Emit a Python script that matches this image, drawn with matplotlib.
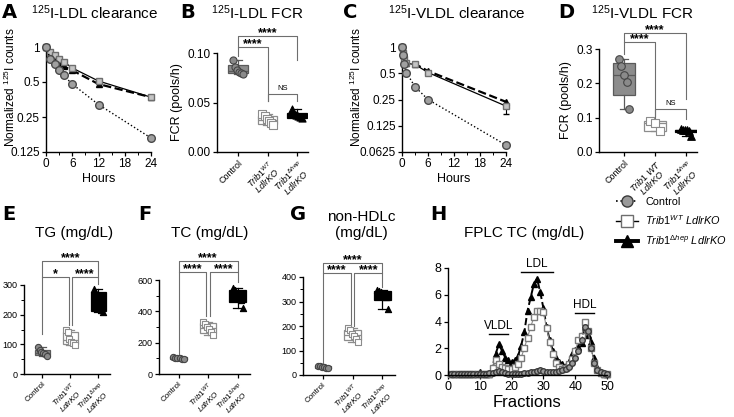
import numpy as np
import matplotlib
matplotlib.use('Agg')
import matplotlib.pyplot as plt
from matplotlib.ticker import AutoMinorLocator, NullLocator
from matplotlib.lines import Line2D

plt.rcParams['font.family'] = ['Liberation Sans', 'DejaVu Sans']
plt.rcParams['mathtext.fontset'] = 'custom'
plt.rcParams['mathtext.rm'] = 'Liberation Sans'
plt.rcParams['mathtext.it'] = 'Liberation Sans:italic'
plt.rcParams['mathtext.bf'] = 'Liberation Sans:bold'

# --- data -------------------------------------------------------------
# A: 125I-LDL clearance
hours_a = [0, 1, 2, 3, 4, 6, 12, 24]
ldl_ctrl = [1.0, 0.79, 0.72, 0.64, 0.57, 0.48, 0.32, 0.165]
ldl_wt = [1.0, 0.90, 0.85, 0.79, 0.75, 0.66, 0.51, 0.37]
ldl_hep = [1.0, 0.85, 0.78, 0.72, 0.68, 0.63, 0.48, 0.37]

# C: 125I-VLDL clearance
hours_c = [0, 0.25, 0.5, 1, 3, 6, 24]
vldl_ctrl = [1.0, 0.80, 0.64, 0.51, 0.35, 0.25, 0.075]
vldl_wt = [1.0, 0.85, 0.72, 0.65, 0.63, 0.51, 0.21]
vldl_wt_err = [0, 0, 0, 0, 0, 0, 0.04]
vldl_hep = [1.0, 0.82, 0.72, 0.66, 0.64, 0.53, 0.235]

# B: 125I-LDL FCR (pools/h)
fcr_ldl_ctrl = [0.093, 0.086, 0.083, 0.081, 0.080, 0.079]
fcr_ldl_wt = [0.038, 0.036, 0.033, 0.031, 0.029, 0.027]
fcr_ldl_hep = [0.043, 0.038, 0.037, 0.036, 0.035, 0.034]

# D: 125I-VLDL FCR (pools/h)
fcr_vldl_ctrl = [0.27, 0.25, 0.225, 0.205, 0.125]
fcr_vldl_wt = [0.09, 0.085, 0.06]
fcr_vldl_hep = [0.066, 0.065, 0.064, 0.063, 0.061, 0.047]

# E-G: plasma lipids (mg/dL)
tg_ctrl = [90, 80, 74, 70, 66, 60]
tg_wt = [150, 140, 118, 108, 104, 98]
tg_hep = [285, 275, 232, 225, 215, 210]
tc_ctrl = [110, 105, 102, 100, 98, 95]
tc_wt = [335, 320, 300, 285, 265, 248]
tc_hep = [550, 535, 515, 500, 470, 420]
nhdl_ctrl = [38, 35, 33, 32, 30, 28]
nhdl_wt = [190, 182, 168, 160, 145, 135]
nhdl_hep = [345, 342, 338, 330, 318, 268]

# H: FPLC total cholesterol per fraction
fractions = list(range(1, 51))
fplc_ctrl = [0.10, 0.10, 0.10, 0.10, 0.10, 0.10, 0.10, 0.10, 0.10, 0.10,
             0.10, 0.10, 0.12, 0.15, 0.25, 0.30, 0.22, 0.12, 0.08, 0.06,
             0.06, 0.08, 0.10, 0.12, 0.15, 0.20, 0.25, 0.30, 0.40, 0.30,
             0.25, 0.20, 0.20, 0.25, 0.30, 0.35, 0.45, 0.60, 0.90, 1.30,
             1.80, 2.60, 3.60, 3.30, 2.00, 0.90, 0.40, 0.20, 0.12, 0.10]
fplc_wt = [0.05, 0.05, 0.05, 0.05, 0.05, 0.05, 0.05, 0.05, 0.05, 0.05,
           0.05, 0.05, 0.10, 0.55, 1.10, 0.85, 0.60, 0.50, 0.45, 0.45,
           0.60, 0.80, 1.30, 2.00, 2.80, 3.60, 4.30, 4.80, 4.80, 4.70,
           3.50, 2.50, 1.60, 0.90, 0.60, 0.45, 0.50, 0.80, 1.20, 1.80,
           2.60, 2.90, 4.00, 3.30, 2.00, 0.90, 0.35, 0.15, 0.10, 0.10]
fplc_hep = [0.05, 0.05, 0.05, 0.05, 0.05, 0.05, 0.05, 0.05, 0.05, 0.20,
            0.05, 0.05, 0.05, 0.60, 1.60, 2.30, 1.80, 1.30, 1.10, 1.00,
            1.10, 1.40, 2.20, 3.20, 4.80, 5.80, 6.80, 7.20, 6.20, 5.00,
            3.60, 2.60, 1.80, 1.30, 1.00, 0.80, 0.70, 1.00, 1.60, 1.90,
            2.10, 2.40, 3.60, 3.00, 2.50, 1.30, 0.50, 0.20, 0.10, 0.10]

groups = ['Control',
          '$\\mathit{Trib1}^{\\mathit{WT}}$\n$\\mathit{LdlrKO}$',
          '$\\mathit{Trib1}^{\\mathit{\\Delta hep}}$\n$\\mathit{LdlrKO}$']
groups_d = ['Control',
            '$\\mathit{Trib1\\ WT}$\n$\\mathit{LdlrKO}$',
            '$\\mathit{Trib1}^{\\mathit{\\Delta hep}}$\n$\\mathit{LdlrKO}$']

# --- helpers ------------------------------------------------------------
W, H = 734, 417
fig = plt.figure(figsize=(W / 100, H / 100), dpi=100)


def rect(l, t, r, b):
    return [l / W, 1 - b / H, (r - l) / W, (b - t) / H]


def ftext(x, y, s, **kw):
    fig.text(x / W, 1 - y / H, s, **kw)


def style(ax, fs):
    for s in ('top', 'right'):
        ax.spines[s].set_visible(False)
    for s in ('left', 'bottom'):
        ax.spines[s].set_linewidth(1.0)
    ax.tick_params(labelsize=fs, length=3, width=0.9, pad=1.5)
    ax.tick_params(which='minor', length=2, width=0.7)


def prism_stats(vals):
    v = np.sort(np.asarray(vals, float))
    q1, med, q3 = np.percentile(v, [25, 50, 75], method='weibull')
    return dict(med=med, q1=q1, q3=q3, whislo=v.min(), whishi=v.max(), fliers=[])


box_cols = [('#8c8c8c', '#5a5a5a'), ('white', '#8c8c8c'), ('black', 'black')]
pt_styles = [dict(marker='o', facecolor='#8a8a8a', edgecolor='#454545'),
             dict(marker='s', facecolor='white', edgecolor='#8c8c8c'),
             dict(marker='^', facecolor='black', edgecolor='black')]


def boxes(ax, data, width=0.6, s=22):
    bp = ax.bxp([prism_stats(g) for g in data], positions=[0, 1, 2], widths=width,
                patch_artist=True, showfliers=False, manage_ticks=False, capwidths=0.28)
    for i, (fc, ec) in enumerate(box_cols):
        bp['boxes'][i].set(facecolor=fc, edgecolor=ec, linewidth=0.9)
        bp['medians'][i].set(color=ec, linewidth=0.9)
        for ln in bp['whiskers'][2 * i:2 * i + 2] + bp['caps'][2 * i:2 * i + 2]:
            ln.set(color=ec, linewidth=0.9)
    for i, g in enumerate(data):
        offs = np.linspace(-0.17, 0.17, len(g))
        ax.scatter(i + offs, g, s=s, linewidths=0.8, zorder=3, clip_on=False, **pt_styles[i])


def bracket(ax, x1, x2, y, d1, d2, label, fs=9, col='#6e6e6e'):
    ax.plot([x1, x1, x2, x2], [d1, y, y, d2], color=col, lw=0.8, clip_on=False)
    if label == 'NS':
        ax.annotate(label, ((x1 + x2) / 2, y), xytext=(0, 1.5), textcoords='offset points',
                    ha='center', va='bottom', fontsize=5.5, annotation_clip=False)
    else:
        ax.annotate(label, ((x1 + x2) / 2, y), xytext=(0, -2.5), textcoords='offset points',
                    ha='center', va='bottom', fontsize=fs, fontweight='bold', annotation_clip=False)


def cat_axis(ax, labels, fs):
    ax.set_xticks([0, 1, 2])
    ax.set_xticklabels(labels, rotation=45, ha='right', va='top', linespacing=0.85,
                       rotation_mode='anchor', multialignment='center', fontsize=fs)


def clearance(ax, t, ctrl, wt, hep, wt_err=None):
    ax.plot(t, hep, '--', color='k', lw=1.6, marker='^', ms=5, mfc='k', mec='k', clip_on=False, zorder=3)
    ax.errorbar(t, wt, yerr=[wt_err, [0] * len(t)] if wt_err else None, fmt='-s', color='k', lw=0.9,
                ms=5, mfc='#c4c4c4', mec='#6e6e6e', ecolor='k', elinewidth=0.8, capsize=2.5,
                clip_on=False, zorder=4)
    ax.plot(t, ctrl, ':', color='k', lw=1.0, marker='o', ms=5.5, mfc='#a0a0a0', mec='#4a4a4a',
            clip_on=False, zorder=5)
    ax.set_yscale('log', base=2)
    ax.set_xlim(0, 24)
    ax.set_xticks([0, 6, 12, 18, 24])
    ax.xaxis.set_minor_locator(AutoMinorLocator(2))
    ax.yaxis.set_minor_locator(NullLocator())
    ax.set_xlabel('Hours', fontsize=9, labelpad=2)


# --- A ------------------------------------------------------------------
axA = fig.add_axes(rect(46, 47, 151, 152))
style(axA, 8.5)
clearance(axA, hours_a, ldl_ctrl, ldl_wt, ldl_hep)
axA.set_ylim(0.125, 1)
axA.set_yticks([0.125, 0.25, 0.5, 1])
axA.set_yticklabels(['0.125', '0.25', '0.5', '1'])
ftext(10, 87, 'Normalized $^{125}$I counts', rotation=90, ha='center', va='center', fontsize=8.5)

# --- C ------------------------------------------------------------------
axC = fig.add_axes(rect(402, 47, 506, 152))
style(axC, 8.5)
clearance(axC, hours_c, vldl_ctrl, vldl_wt, vldl_hep, wt_err=vldl_wt_err)
axC.set_ylim(0.0625, 1)
axC.set_yticks([0.0625, 0.125, 0.25, 0.5, 1])
axC.set_yticklabels(['0.0625', '0.125', '0.25', '0.5', '1'])
ftext(356, 87, 'Normalized $^{125}$I counts', rotation=90, ha='center', va='center', fontsize=8.5)

# --- B ------------------------------------------------------------------
axB = fig.add_axes(rect(217, 53, 308, 152))
style(axB, 8.5)
boxes(axB, [fcr_ldl_ctrl, fcr_ldl_wt, fcr_ldl_hep], width=0.65, s=26)
axB.set_ylim(0, 0.10)
axB.set_xlim(-0.71, 2.37)
axB.set_yticks([0, 0.05, 0.10])
axB.set_yticklabels(['0.00', '0.05', '0.10'])
axB.set_ylabel('FCR (pools/h)', fontsize=9, labelpad=3)
cat_axis(axB, groups, 6.5)
bracket(axB, 0, 1, 0.106, 0.097, 0.052, '****')
bracket(axB, 0, 2, 0.117, 0.106, 0.093, '****')
bracket(axB, 1, 2, 0.059, 0.052, 0.052, 'NS')

# --- D ------------------------------------------------------------------
axD = fig.add_axes(rect(599, 49, 697, 152))
style(axD, 8.5)
boxes(axD, [fcr_vldl_ctrl, fcr_vldl_wt, fcr_vldl_hep], width=0.7, s=30)
axD.set_ylim(0, 0.3)
axD.set_xlim(-0.8, 2.35)
axD.set_yticks([0, 0.1, 0.2, 0.3])
axD.set_yticklabels(['0.0', '0.1', '0.2', '0.3'])
axD.set_ylabel('FCR (pools/h)', fontsize=9, labelpad=3)
cat_axis(axD, groups_d, 6.5)
bracket(axD, 0, 1, 0.32, 0.285, 0.10, '****')
bracket(axD, 0, 2, 0.347, 0.32, 0.155, '****')
bracket(axD, 1, 2, 0.125, 0.105, 0.095, 'NS')

# --- E, F, G ------------------------------------------------------------
lipid_panels = [
    ((24, 285, 110, 374), [tg_ctrl, tg_wt, tg_hep], 300, 100, (327, 381), (135, 165, 305)),
    ((159, 280, 250, 374), [tc_ctrl, tc_wt, tc_hep], 600, 200, (651, 721), (130, 370, 590)),
    ((303, 277, 395, 375), [nhdl_ctrl, nhdl_wt, nhdl_hep], 400, 100, (416, 457), (50, 200, 360)),
]
for (l, t, r, b), data, ymax, step, (ylow, ytop), drops in lipid_panels:
    ax = fig.add_axes(rect(l, t, r, b))
    style(ax, 6.5)
    boxes(ax, data, width=0.55, s=20)
    ax.set_ylim(0, ymax)
    ax.set_xlim(-0.66, 2.42)
    ax.set_yticks(np.arange(0, ymax + 1, step))
    ax.yaxis.set_minor_locator(AutoMinorLocator(2))
    cat_axis(ax, groups, 5.8)
    bracket(ax, 0, 0.94, ylow, drops[0], drops[1], '*' if ymax == 300 else '****')
    bracket(ax, 1.06, 2, ylow, drops[1], drops[2], '****')
    bracket(ax, 0, 2, ytop, ylow, ylow, '****')

# --- H ------------------------------------------------------------------
axH = fig.add_axes(rect(448, 268, 607, 375))
style(axH, 9)
axH.plot(fractions, fplc_hep, '--', color='k', lw=1.4, marker='^', ms=4.5, mfc='k', mec='k', clip_on=False)
axH.plot(fractions, fplc_wt, '-', color='#8c8c8c', lw=0.8, marker='s', ms=4.5, mfc='white', mec='#7a7a7a',
         clip_on=False)
axH.plot(fractions, fplc_ctrl, ':', color='#444444', lw=0.8, marker='o', ms=4, mfc='#9a9a9a', mec='#3a3a3a',
         clip_on=False)
axH.set_xlim(0, 50)
axH.set_ylim(0, 8)
axH.set_xticks(range(0, 51, 10))
axH.set_yticks(range(0, 9, 2))
axH.set_xlabel('Fractions', fontsize=12, labelpad=1)
for name, x1, x2, y in [('VLDL', 13, 19, 3.06), ('LDL', 23, 33, 7.7), ('HDL', 40, 46, 4.6)]:
    axH.plot([x1, x2], [y, y], color='k', lw=1.0, clip_on=False)
    axH.text((x1 + x2) / 2, y + 0.15, name, ha='center', va='bottom', fontsize=8.5)

handles = [
    Line2D([], [], ls=':', color='k', lw=1.2, marker='o', ms=8, mfc='#9a9a9a', mec='#3a3a3a'),
    Line2D([], [], ls='-', color='k', lw=1.0, marker='s', ms=8, mfc='white', mec='#6e6e6e'),
    Line2D([], [], ls='-', color='k', lw=2.8, marker='^', ms=8, mfc='k', mec='k'),
]
labels = ['Control',
          '$\\mathit{Trib1}^{\\mathit{WT}}$ $\\mathit{LdlrKO}$',
          '$\\mathit{Trib1}^{\\mathit{\\Delta hep}}$ $\\mathit{LdlrKO}$']
fig.legend(handles, labels, loc='upper left', bbox_to_anchor=(616 / W, 1 - 197 / H), frameon=False,
           fontsize=7.8, handlelength=2.0, labelspacing=0.55, handletextpad=0.7, borderpad=0,
           borderaxespad=0, numpoints=1)

# --- titles and panel letters ------------------------------------------
for x, y, s in [(95, 13, '$^{125}$I-LDL clearance'), (257, 13, '$^{125}$I-LDL FCR'),
                (457, 13, '$^{125}$I-VLDL clearance'), (642, 13, '$^{125}$I-VLDL FCR'),
                (74, 233, 'TG (mg/dL)'), (210, 233, 'TC (mg/dL)'),
                (361, 225, 'non-HDLc\n(mg/dL)'), (524, 233, 'FPLC TC (mg/dL)')]:
    ftext(x, y, s, ha='center', va='center', fontsize=11, linespacing=1.1)

for x, y, s in [(2, 12, 'A'), (180, 12, 'B'), (343, 12, 'C'), (558, 12, 'D'),
                (2, 215, 'E'), (138, 215, 'F'), (290, 215, 'G'), (430, 215, 'H')]:
    ftext(x, y, s, ha='left', va='center', fontsize=14, fontweight='heavy', family='DejaVu Sans')

fig.savefig('out.png', dpi=100)
